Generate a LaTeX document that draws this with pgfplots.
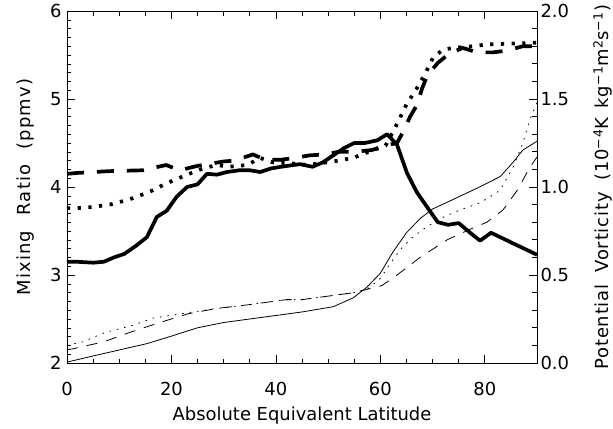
\documentclass[border=0pt]{standalone}
\usepackage{fontspec}
\setmainfont{DejaVu Sans}
\newfontfamily\widefont[LetterSpace=6]{DejaVu Sans}
\newfontfamily\rwidefont[LetterSpace=4.5]{DejaVu Sans}
\usepackage{pgfplots}
\pgfplotsset{compat=1.18}
\begin{document}
\begin{tikzpicture}
\useasboundingbox (-67bp,-66bp) rectangle (546bp,363bp);
\pgfplotsset{
  common/.style={
    at={(0,0)}, anchor=south west, scale only axis,
    width=470bp, height=352bp, xmin=0, xmax=90,
    tick align=inside, major tick length=8bp, minor tick length=4.5bp,
    every tick/.style={black, line width=0.6bp},
    ticklabel style={font=\fontsize{18}{18}\selectfont},
    label style={font=\fontsize{18}{18}\selectfont},
    /pgf/number format/assume math mode=true,
  },
  thk/.style={black, line width=3.7bp, line cap=butt, line join=round},
  thn/.style={black, line width=0.8bp, line join=round},
}
\begin{axis}[common,
  ymin=2, ymax=6,
  xtick={0,20,...,80}, minor x tick num=3,
  ytick={2,3,4,5,6}, minor y tick num=9,
  ytick pos=left,
  axis line style={line width=0.8bp},
  xlabel={Absolute Equivalent Latitude},
  ylabel={\widefont Mixing\hspace{0.5em} Ratio\hspace{0.5em} (ppmv)},
  xlabel style={at={(axis description cs:0.5,-0.148)}, anchor=center},
  ylabel style={at={(axis description cs:-0.089,0.5)}, anchor=center},
  xticklabel style={yshift=-16bp},
  yticklabel style={xshift=-2bp},
]
% thick solid
\addplot[thk] coordinates {(0,3.15)(2,3.15)(5,3.14)(7,3.15)(9,3.20)(11,3.24)(13.4,3.34)(15.3,3.43)(17.2,3.66)(19.1,3.73)(21,3.89)(23,4.0)(25,4.03)(26.8,4.15)(28.7,4.14)(30.6,4.17)(33,4.19)(35,4.19)(37,4.17)(39,4.21)(41,4.23)(44.6,4.26)(47,4.23)(49,4.28)(51,4.36)(53,4.44)(55,4.50)(57,4.50)(59.4,4.53)(61.3,4.60)(63.2,4.48)(65.1,4.16)(67,3.94)(69.1,3.76)(71,3.60)(73,3.57)(75,3.59)(77.2,3.48)(79.1,3.39)(81.2,3.48)(85.4,3.36)(90,3.23)};
% thick dashed
\addplot[thk, dash pattern=on 17bp off 13bp] coordinates {(0,4.15)(2,4.16)(8,4.18)(14.5,4.19)(19,4.25)(21.5,4.19)(25,4.24)(27,4.26)(30,4.29)(32,4.30)(35.6,4.37)(38,4.31)(41,4.31)(43.5,4.33)(46.5,4.36)(49.5,4.37)(52,4.40)(55,4.40)(58.4,4.42)(61,4.47)(63.2,4.50)(64.3,4.62)(65.7,4.80)(67,4.93)(68,5.12)(69,5.27)(71,5.41)(73.3,5.52)(75.8,5.58)(78.5,5.53)(81.6,5.53)(84.3,5.55)(87.3,5.60)(90,5.60)};
% thick dotted
\addplot[thk, dash pattern=on 3.2bp off 7.5bp] coordinates {(0,3.76)(2,3.76)(4.4,3.77)(8.2,3.80)(12,3.86)(16,3.95)(19,4.04)(23,4.14)(26,4.21)(28.7,4.25)(31,4.23)(34.5,4.25)(37,4.33)(39.4,4.28)(42.7,4.27)(46,4.25)(51,4.29)(54.8,4.33)(58.6,4.42)(61,4.47)(62.8,4.67)(65.1,4.95)(66.6,5.08)(68.6,5.29)(70.1,5.47)(72,5.56)(73.9,5.58)(77.7,5.60)(80.4,5.62)(85.4,5.63)(90,5.64)};
\end{axis}
\begin{axis}[common,
  ymin=0, ymax=2,
  axis x line=none, axis y line*=right,
  y axis line style={-, line width=0.8bp},
  ytick={0,0.5,...,2}, minor y tick num=4,
  yticklabel style={/pgf/number format/.cd, fixed, fixed zerofill, precision=1},
  ylabel={\rwidefont Potential\hspace{0.3em} Vorticity\hspace{0.3em} (10\textsuperscript{−4}K\hspace{0.15em} kg\textsuperscript{−1}m\textsuperscript{2}s\textsuperscript{−1})},
  ylabel style={at={(axis description cs:1.132,0.5)}, anchor=center, rotate=0, yshift=-4bp},
]
% thin solid
\addplot[thn] coordinates {(0,0.005)(5,0.04)(10,0.074)(15.3,0.11)(19.7,0.15)(25,0.20)(30,0.23)(35,0.25)(40,0.27)(45,0.29)(51,0.32)(54.8,0.37)(57.4,0.43)(60,0.51)(62.4,0.63)(65,0.74)(67.6,0.82)(70,0.875)(74,0.93)(79,1.0)(83,1.06)(85.4,1.14)(87.3,1.21)(90,1.26)};
% thin dotted
\addplot[thn, dash pattern=on 1.5bp off 6bp] coordinates {(0,0.10)(3,0.12)(7,0.17)(12.6,0.215)(16.5,0.255)(19.7,0.27)(23,0.285)(28.7,0.31)(34.5,0.33)(42,0.36)(45,0.36)(50,0.38)(55,0.40)(57.5,0.42)(60,0.48)(62,0.57)(64,0.65)(66,0.71)(68.2,0.76)(71.4,0.82)(75.3,0.87)(79.1,0.91)(82.9,0.98)(85.4,1.11)(87.3,1.25)(88.6,1.38)(90,1.48)};
% thin dashed
\addplot[thn, dash pattern=on 11bp off 9bp] coordinates {(0,0.075)(1,0.08)(7,0.12)(12.6,0.18)(17.8,0.23)(23.2,0.28)(28.7,0.31)(34.5,0.33)(42,0.36)(45,0.36)(50,0.38)(55,0.40)(60.3,0.44)(63.2,0.50)(67.6,0.60)(72.8,0.70)(77.2,0.76)(80.4,0.80)(83.5,0.87)(86.2,0.98)(88.6,1.11)(90,1.17)};
\end{axis}
\end{tikzpicture}
\end{document}
